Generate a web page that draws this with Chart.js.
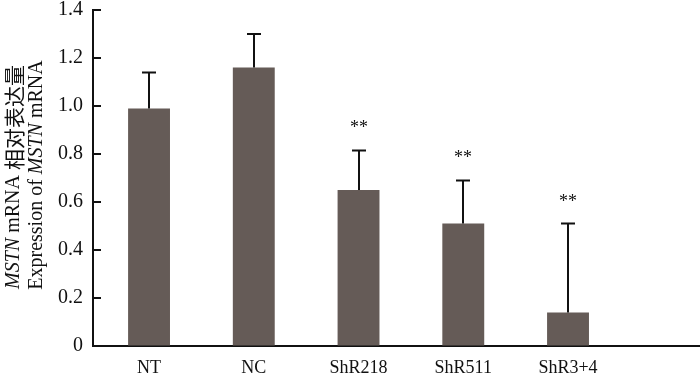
<!DOCTYPE html>
<html>
<head>
<meta charset="utf-8">
<script src="https://cdn.jsdelivr.net/npm/chart.js@4"></script>
<style>
  html, body { margin: 0; padding: 0; background: #fff; }
  #wrap { width: 700px; height: 373px; }
</style>
</head>
<body>
<div id="wrap"><canvas id="myGraph"></canvas></div>
<script>
// data
const categories = ['NT', 'NC', 'ShR218', 'ShR511', 'ShR3+4'];
const means      = [0.99, 1.16, 0.65, 0.51, 0.14];
const errors     = [0.15, 0.14, 0.165, 0.18, 0.37];
const marks      = ['', '', '**', '**', '**'];
const yTicks     = [0, 0.2, 0.4, 0.6, 0.8, 1.0, 1.2, 1.4];

const serif = "'Liberation Serif', 'Times New Roman', serif";
const barColor = '#655b57';

// error bars + significance stars
const errorBars = {
    id: 'errorBars',
    afterDatasetsDraw(chart) {
        const ctx = chart.ctx;
        const yScale = chart.scales.y;
        const meta = chart.getDatasetMeta(0);
        ctx.save();
        ctx.strokeStyle = '#111';
        ctx.lineWidth = 2;
        meta.data.forEach(function (bar, i) {
            const x = Math.round(bar.x);
            const yTop = yScale.getPixelForValue(means[i]);
            const yErr = yScale.getPixelForValue(means[i] + errors[i]);
            ctx.beginPath();
            ctx.moveTo(x, yTop);
            ctx.lineTo(x, yErr);
            ctx.moveTo(x - 7, yErr);
            ctx.lineTo(x + 7, yErr);
            ctx.stroke();
            if (marks[i]) {
                ctx.fillStyle = '#111';
                ctx.font = '18px ' + serif;
                ctx.textAlign = 'center';
                ctx.textBaseline = 'alphabetic';
                ctx.fillText(marks[i], x, yErr - 17);
            }
        });
        ctx.restore();
    }
};

// inward tick marks on the y axis
const innerTicks = {
    id: 'innerTicks',
    afterDraw(chart) {
        const ctx = chart.ctx;
        const yScale = chart.scales.y;
        const left = chart.chartArea.left;
        ctx.save();
        ctx.strokeStyle = '#111';
        ctx.lineWidth = 2;
        yScale.ticks.forEach(function (t) {
            const y = Math.round(yScale.getPixelForValue(t.value));
            ctx.beginPath();
            ctx.moveTo(left - 1, y);
            ctx.lineTo(left + 8, y);
            ctx.stroke();
        });
        ctx.restore();
    }
};

// two-line rotated y title with italic gene name
const yTitle = {
    id: 'yTitle',
    afterDraw(chart) {
        const ctx = chart.ctx;
        const lines = [
            { x: 14, cy: 177, runs: [
                { t: 'MSTN', f: 'italic 20px ' + serif },
                { t: ' mRNA ', f: '20px ' + serif },
                { t: '相对表达量', f: "21px 'Noto Sans CJK SC', sans-serif" }
            ] },
            { x: 37, cy: 175, runs: [
                { t: 'Expression of ', f: '20px ' + serif },
                { t: 'MSTN', f: 'italic 20px ' + serif },
                { t: ' mRNA', f: '20px ' + serif }
            ] }
        ];
        ctx.save();
        ctx.fillStyle = '#111';
        ctx.textBaseline = 'middle';
        ctx.textAlign = 'left';
        lines.forEach(function (line) {
            let total = 0;
            line.runs.forEach(function (r) { ctx.font = r.f; r.w = ctx.measureText(r.t).width; total += r.w; });
            ctx.save();
            ctx.translate(line.x, line.cy);
            ctx.rotate(-Math.PI / 2);
            let pos = -total / 2;
            line.runs.forEach(function (r) {
                ctx.font = r.f;
                ctx.fillText(r.t, pos, 0);
                pos += r.w;
            });
            ctx.restore();
        });
        ctx.restore();
    }
};

const ctx = document.getElementById('myGraph').getContext('2d');
const barChart = new Chart(ctx, {
    type: 'bar',
    data: {
        datasets: [{
            data: means.map((v, i) => ({ x: i, y: v })),
            backgroundColor: barColor,
            borderWidth: 0,
            barPercentage: 0.4,
            categoryPercentage: 1.0
        }]
    },
    options: {
        responsive: true,
        maintainAspectRatio: false,
        animation: false,
        layout: { padding: { top: 0, right: 0, left: 0, bottom: 0 } },
        plugins: {
            legend: { display: false },
            tooltip: { enabled: false }
        },
        scales: {
            x: {
                type: 'linear',
                offset: false,
                min: -0.535,
                max: 5.26,
                afterBuildTicks: function (axis) {
                    axis.ticks = categories.map((c, i) => ({ value: i }));
                },
                afterFit: function (scale) { scale.height = 27; },
                grid: { display: true, drawOnChartArea: false, drawTicks: false, offset: false },
                border: { display: true, color: '#111', width: 2 },
                ticks: {
                    autoSkip: false,
                    maxRotation: 0,
                    padding: 11,
                    color: '#111',
                    font: { family: serif, size: 18 },
                    callback: function (v) { return categories[v]; }
                }
            },
            y: {
                min: 0,
                max: 1.4,
                afterBuildTicks: function (axis) {
                    axis.ticks = yTicks.map(v => ({ value: v }));
                },
                afterFit: function (scale) {
                    scale.width = 93;
                    scale.paddingTop = 10;
                },
                grid: { display: true, drawOnChartArea: false, drawTicks: false },
                border: { display: true, color: '#111', width: 2 },
                ticks: {
                    padding: 10,
                    color: '#111',
                    font: { family: serif, size: 20, lineHeight: 1 },
                    callback: function (v) { return v === 0 ? '0' : v.toFixed(1); }
                }
            }
        }
    },
    plugins: [errorBars, innerTicks, yTitle]
});
</script>
</body>
</html>
